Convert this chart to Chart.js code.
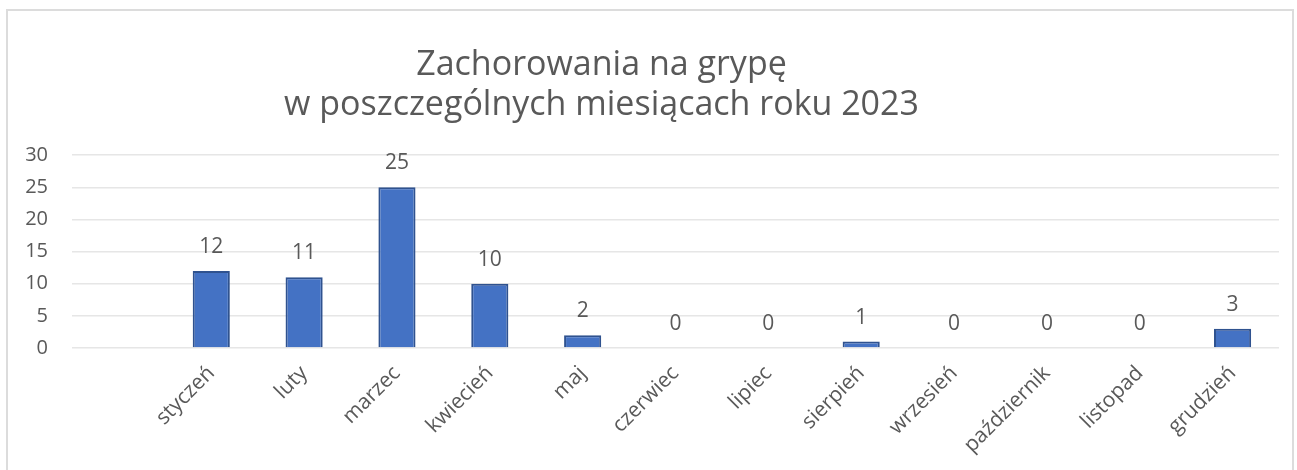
<!DOCTYPE html>
<html>
<head>
<meta charset="utf-8">
<script src="https://cdn.jsdelivr.net/npm/chart.js@4.4.0/dist/chart.umd.min.js"></script>
<style>
    html, body { margin: 0; padding: 0; background: #fff; }
    #wrap { position: relative; width: 1297px; height: 470px; overflow: hidden; }
    #frame { position: absolute; left: 6px; top: 9px; width: 1288px; height: 470px; border: 2px solid #dcdcdc; box-sizing: border-box; }
    canvas { position: absolute; left: 0; top: 0; }
</style>
</head>
<body>
<div id="wrap">
    <div id="frame"></div>
    <canvas id="myChart" width="1297" height="470"></canvas>
</div>
<script>
// first slot is left empty, as in the original sheet
const months = ['', 'styczeń', 'luty', 'marzec', 'kwiecień', 'maj', 'czerwiec', 'lipiec',
    'sierpień', 'wrzesień', 'październik', 'listopad', 'grudzień'];
const cases = [null, 12, 11, 25, 10, 2, 0, 0, 1, 0, 0, 0, 3];
const yTicks = [0, 5, 10, 15, 20, 25, 30];
const titleLines = ['Zachorowania na grypę', 'w poszczególnych miesiącach roku 2023'];

const textColor = '#595959';
const fontFamily = "'Open Sans', 'Noto Sans', sans-serif";

// value labels above each bar
const barLabels = {
    id: 'barLabels',
    afterDatasetsDraw(chart) {
        const ctx = chart.ctx;
        const meta = chart.getDatasetMeta(0);
        ctx.save();
        ctx.fillStyle = textColor;
        ctx.font = '21px ' + fontFamily;
        ctx.textAlign = 'center';
        ctx.textBaseline = 'alphabetic';
        meta.data.forEach((bar, i) => {
            const v = cases[i];
            if (v === null) return;
            ctx.fillText(String(v), bar.x, bar.y - 18);
        });
        ctx.restore();
    }
};

// title sits a bit left of the canvas centre
const titleShift = {
    id: 'titleShift',
    afterLayout(chart) {
        const t = chart.titleBlock;
        t.left -= 38;
        t.right -= 38;
    }
};

const data = {
    labels: months,
    datasets: [{
        label: 'Zachorowania',
        data: cases,
        backgroundColor: '#4472C4',
        borderColor: '#2F528F',
        borderWidth: 2,
        categoryPercentage: 1,
        barPercentage: 0.4
    }]
};

const config = {
    type: 'bar',
    data: data,
    plugins: [barLabels, titleShift],
    options: {
        responsive: false,
        animation: false,
        layout: { padding: { left: 0, right: 18, top: 0, bottom: 0 } },
        plugins: {
            legend: { display: false },
            tooltip: { enabled: false },
            title: {
                display: true,
                text: titleLines,
                color: textColor,
                font: { family: fontFamily, size: 34, weight: 'normal', lineHeight: 1.18 },
                padding: { top: 45, bottom: 30 }
            }
        },
        scales: {
            x: {
                grid: { display: false },
                border: { display: false },
                ticks: {
                    color: textColor,
                    font: { family: fontFamily, size: 21 },
                    maxRotation: 45,
                    minRotation: 45,
                    padding: 5,
                    autoSkip: false
                },
                afterFit: s => { s.height = 122; }
            },
            y: {
                min: 0,
                max: 30,
                afterBuildTicks: s => { s.ticks = yTicks.map(v => ({ value: v })); },
                grid: { color: '#e6e6e6', lineWidth: 1.5, drawTicks: false },
                border: { display: false },
                ticks: {
                    color: textColor,
                    font: { family: fontFamily, size: 20 },
                    padding: 24
                },
                afterFit: s => { s.width = 72; }
            }
        }
    }
};

window.onload = function() {
    const ctx = document.getElementById('myChart').getContext('2d');
    const myChart = new Chart(ctx, config);
};
</script>
</body>
</html>
